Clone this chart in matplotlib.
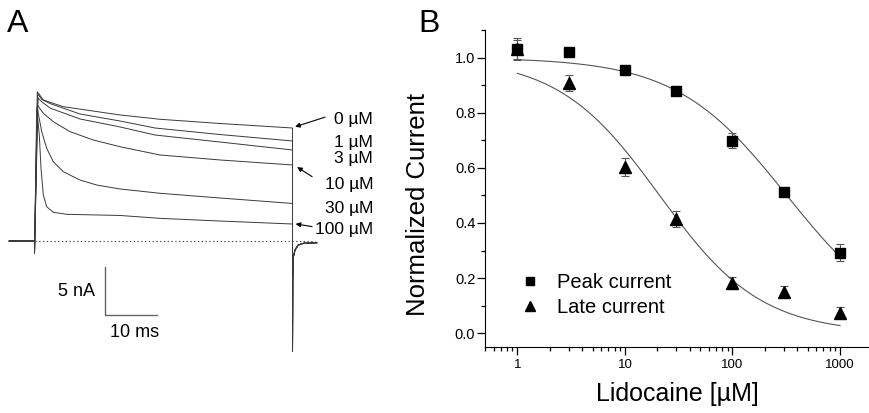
import numpy as np
import matplotlib
matplotlib.use("Agg")
from matplotlib import pyplot as plt
from matplotlib.lines import Line2D
from matplotlib.ticker import AutoMinorLocator, LogLocator, NullFormatter

plt.rcParams["font.family"] = ["Liberation Sans", "DejaVu Sans"]

# ---- panel A: current traces (time in ms, current in nA) ----
hold_t = [-4.9, 0, 0]
hold_i = [0, 0, -1.25]
tail_t = [50, 50.05, 50.16, 50.48, 51.1, 52.1, 54.7]
tail_i = [-11.5, -4.06, -1.67, -0.94, -0.42, -0.24, -0.18]

t_0 = [0.54, 1.71, 5.58, 16.57, 24.32, 35.95, 50]
i_0 = [15.55, 14.69, 13.99, 13.13, 12.68, 12.24, 11.77]
t_1 = [0.64, 1.45, 3.0, 8.82, 16.57, 23.35, 35.95, 50]
i_1 = [15.31, 14.74, 14.32, 13.23, 12.5, 11.77, 11.09, 10.42]
t_3 = [0.68, 1.45, 3.0, 8.82, 16.57, 23.35, 35.95, 50]
i_3 = [14.9, 14.48, 13.85, 12.71, 11.88, 11.04, 10.31, 9.48]
t_10 = [0.54, 1.71, 3.64, 6.88, 11.4, 16.57, 24.32, 35.95, 50]
i_10 = [14.17, 13.3, 12.43, 11.39, 10.52, 9.82, 8.96, 8.44, 7.92]
t_30 = [0.54, 1.4, 2.36, 3.64, 5.58, 8.82, 12.05, 16.57, 24.32, 35.95, 50]
i_30 = [13.82, 11.39, 9.66, 8.26, 7.22, 6.35, 5.83, 5.42, 4.97, 4.48, 3.91]
t_100 = [0.43, 0.93, 1.26, 1.71, 2.36, 3.64, 6.24, 16.57, 24.32, 35.95, 50]
i_100 = [13.82, 11.04, 7.57, 4.79, 3.57, 2.99, 2.78, 2.66, 2.36, 2.08, 1.77]

conc_labels = ["0 \u00b5M", "1 \u00b5M", "3 \u00b5M", "10 \u00b5M", "30 \u00b5M", "100 \u00b5M"]
label_y = [12.19, 9.82, 8.09, 5.42, 2.95, 0.70]

# ---- panel B: dose response ----
conc = [1, 3, 10, 30, 100, 300, 1000]
peak = [1.03, 1.019, 0.954, 0.877, 0.699, 0.511, 0.292]
peak_err = [0.035, 0.005, 0.008, 0.012, 0.028, 0.01, 0.03]
late = [1.03, 0.908, 0.603, 0.414, 0.183, 0.150, 0.074]
late_err = [0.04, 0.03, 0.033, 0.03, 0.02, 0.02, 0.02]

# Hill fit parameters
peak_ic50, peak_n = 320, 0.84
late_ic50, late_n = 21, 0.92

fig = plt.figure(figsize=(8.7, 4.13), dpi=100)

# panel A, axes spans the left 400 px; limits map data to pixels
ax_a = fig.add_axes([0, 0, 400 / 870, 1])
ax_a.set_xlim(-6.686, 70.83)
ax_a.set_ylim(-17.917, 25.104)
ax_a.axis("off")

trace_col = "#3a3a3a"
for tt, ii in [(t_0, i_0), (t_1, i_1), (t_3, i_3), (t_10, i_10), (t_30, i_30), (t_100, i_100)]:
    t_all = np.concatenate([hold_t, tt, tail_t])
    i_all = np.concatenate([hold_i, ii, tail_i])
    ax_a.plot(t_all, i_all, color=trace_col, lw=0.7)

# zero current line
ax_a.plot([0.1, 54.4], [0, 0], color="#444444", lw=0.8, linestyle=(0, (1.2, 2.2)))

for lab, ly in zip(conc_labels, label_y):
    ax_a.text(65.6, ly, lab, ha="right", va="baseline", fontsize=12.5)

arrow = dict(arrowstyle="-|>", color="black", lw=0.8, mutation_scale=7, shrinkA=0, shrinkB=0)
ax_a.annotate("", xy=(50.5, 11.9), xytext=(56.3, 12.9), arrowprops=arrow)
ax_a.annotate("", xy=(50.9, 7.7), xytext=(53.8, 6.7), arrowprops=arrow)
ax_a.annotate("", xy=(50.6, 1.78), xytext=(53.8, 1.5), arrowprops=arrow)

# scale bars
ax_a.plot([13.66, 13.66, 23.66], [-2.71, -7.71, -7.71], color="#666666", lw=1)
ax_a.text(11.7, -5.3, "5 nA", ha="right", va="center", fontsize=13)
ax_a.text(19.4, -9.5, "10 ms", ha="center", va="center", fontsize=13)

fig.text(0.008, 0.922, "A", fontsize=23, va="baseline")
fig.text(0.4805, 0.922, "B", fontsize=23, va="baseline")

# panel B
ax_b = fig.add_axes([485 / 870, 66 / 413, 385 / 870, 317 / 413])
ax_b.set_xscale("log")
ax_b.set_xlim(0.5, 1900)
ax_b.set_ylim(-0.05, 1.1)

xs = np.logspace(0, 3, 200)
ax_b.plot(xs, 1 / (1 + (xs / peak_ic50) ** peak_n), color="#555555", lw=0.8)
ax_b.plot(xs, 1 / (1 + (xs / late_ic50) ** late_n), color="#555555", lw=0.8)

ax_b.errorbar(conc, peak, yerr=peak_err, fmt="s", color="black", ms=7.5,
              ecolor="#555555", elinewidth=0.8, capsize=3, capthick=0.8)
ax_b.errorbar(conc, late, yerr=late_err, fmt="^", color="black", ms=8.5,
              ecolor="#555555", elinewidth=0.8, capsize=3, capthick=0.8)

ax_b.spines["top"].set_visible(False)
ax_b.spines["right"].set_visible(False)
ax_b.set_yticks([0.0, 0.2, 0.4, 0.6, 0.8, 1.0])
ax_b.set_yticklabels(["0.0", "0.2", "0.4", "0.6", "0.8", "1.0"])
ax_b.yaxis.set_minor_locator(AutoMinorLocator(2))
ax_b.set_xticks([1, 10, 100, 1000])
ax_b.set_xticklabels(["1", "10", "100", "1000"])
ax_b.xaxis.set_minor_locator(LogLocator(base=10, subs=np.arange(2, 10)))
ax_b.xaxis.set_minor_formatter(NullFormatter())
ax_b.tick_params(which="major", length=5.5, width=0.9, direction="out")
ax_b.tick_params(which="minor", length=3, width=0.9, direction="out")
ax_b.tick_params(axis="y", labelsize=10.5, pad=1.5)
ax_b.tick_params(axis="x", labelsize=9.5, pad=3)

ax_b.set_ylabel("Normalized Current", fontsize=18.5)
ax_b.yaxis.set_label_coords(-0.143, 0.448)
ax_b.set_xlabel("Lidocaine [\u00b5M]", fontsize=18, labelpad=8)

handles = [Line2D([], [], marker="s", color="black", ls="none", ms=5.5),
           Line2D([], [], marker="^", color="black", ls="none", ms=6.5)]
ax_b.legend(handles, ["Peak current", "Late current"], loc="center left",
            bbox_to_anchor=(502 / 870, 0.285), bbox_transform=fig.transFigure,
            frameon=False, fontsize=14.5, handlelength=1, handletextpad=0.85,
            labelspacing=0.3)

plt.savefig("out.png", dpi=100)
